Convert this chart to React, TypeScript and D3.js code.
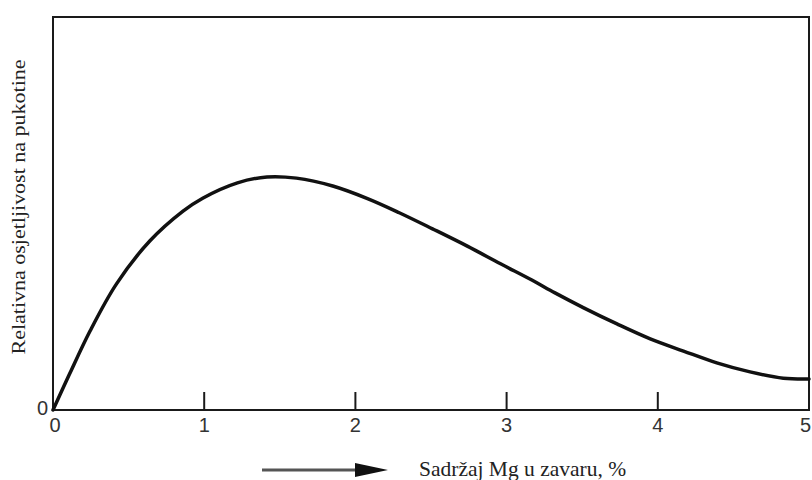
import React, { useEffect, useRef } from "react";
import * as d3 from "d3";

// Mg content in weld (%) and relative crack sensitivity (arbitrary units, 0..10 = frame height)
const mgContent = [
  0, 0.11, 0.245, 0.42, 0.64, 0.86, 0.99, 1.22, 1.415, 1.61, 1.85, 2.08, 2.29,
  2.51, 2.74, 2.96, 3.17, 3.32, 3.51, 3.73, 3.95, 4.17, 4.39, 4.61, 4.83, 5.0,
];
const sensitivity = [
  0, 0.92, 2.01, 3.21, 4.3, 5.06, 5.39, 5.78, 5.93, 5.9, 5.7, 5.38, 5.02, 4.61,
  4.17, 3.72, 3.3, 2.98, 2.6, 2.19, 1.81, 1.5, 1.2, 0.97, 0.81, 0.79,
];
const xTicks = [0, 1, 2, 3, 4, 5];
const yTickLabels = ["0"];

const xLabel = "Sadržaj Mg u zavaru, %";
const yLabel = "Relativna osjetljivost na pukotine";

function drawChart(node: SVGSVGElement) {
  const svg = d3.select(node);
  svg.selectAll("*").remove();

  const left = 53,
    right = 809,
    top = 17,
    bottom = 410;

  const x = d3.scaleLinear().domain([0, 5]).range([left, right]);
  const y = d3.scaleLinear().domain([0, 10]).range([bottom, top]);

  const sans = "'Liberation Sans', Arial, sans-serif";
  const serif = "'Liberation Serif', 'Times New Roman', serif";

  // frame
  svg
    .append("rect")
    .attr("x", left)
    .attr("y", top)
    .attr("width", right - left)
    .attr("height", bottom - top)
    .attr("fill", "none")
    .attr("stroke", "#1a1a1a")
    .attr("stroke-width", 2);

  // inner ticks on x axis
  svg
    .append("g")
    .selectAll("line")
    .data(xTicks.filter((t) => t > 0 && t < 5))
    .enter()
    .append("line")
    .attr("x1", (d) => x(d))
    .attr("x2", (d) => x(d))
    .attr("y1", bottom)
    .attr("y2", bottom - 18)
    .attr("stroke", "#1a1a1a")
    .attr("stroke-width", 2);

  // tick labels (last one kept inside the edge)
  svg
    .append("g")
    .selectAll("text")
    .data(xTicks)
    .enter()
    .append("text")
    .attr("x", (d) => (d === 5 ? 811 : x(d) + (d === 0 ? 2 : 0)))
    .attr("y", bottom + 22)
    .attr("text-anchor", (d) => (d === 5 ? "end" : "middle"))
    .attr("font-family", sans)
    .attr("font-size", 20)
    .attr("fill", "#333")
    .text((d) => String(d));

  svg
    .append("g")
    .selectAll("text")
    .data(yTickLabels)
    .enter()
    .append("text")
    .attr("x", left - 5)
    .attr("y", y(0) + 5)
    .attr("text-anchor", "end")
    .attr("font-family", sans)
    .attr("font-size", 20)
    .attr("fill", "#333")
    .text((d) => d);

  // curve
  const points: [number, number][] = mgContent.map((m, i) => [m, sensitivity[i]]);
  const line = d3
    .line<[number, number]>()
    .x((d) => x(d[0]))
    .y((d) => y(d[1]))
    .curve(d3.curveCatmullRom.alpha(0.5));

  svg
    .append("path")
    .datum(points)
    .attr("d", line)
    .attr("fill", "none")
    .attr("stroke", "#111")
    .attr("stroke-width", 3.5)
    .attr("stroke-linecap", "round");

  // y label
  svg
    .append("text")
    .attr("transform", `translate(25, 207) rotate(-90)`)
    .attr("text-anchor", "middle")
    .attr("font-family", serif)
    .attr("font-size", 18)
    .attr("textLength", 295)
    .attr("lengthAdjust", "spacingAndGlyphs")
    .attr("fill", "#222")
    .text(yLabel);

  // arrow + x label
  svg
    .append("line")
    .attr("x1", 262)
    .attr("x2", 360)
    .attr("y1", 470)
    .attr("y2", 470)
    .attr("stroke", "#555")
    .attr("stroke-width", 3);

  svg
    .append("path")
    .attr("d", "M355,463 L388,470 L355,477 Z")
    .attr("fill", "#111");

  svg
    .append("text")
    .attr("x", 419)
    .attr("y", 476)
    .attr("font-family", serif)
    .attr("font-size", 21.5)
    .attr("fill", "#222")
    .text(xLabel);
}

export default function App() {
  const ref = useRef<SVGSVGElement>(null);
  useEffect(() => {
    if (ref.current) drawChart(ref.current);
  }, []);

  return (
    <svg
      ref={ref}
      width={812}
      height={480}
      style={{ position: "absolute", left: 0, top: 0, background: "#fff" }}
    />
  );
}
